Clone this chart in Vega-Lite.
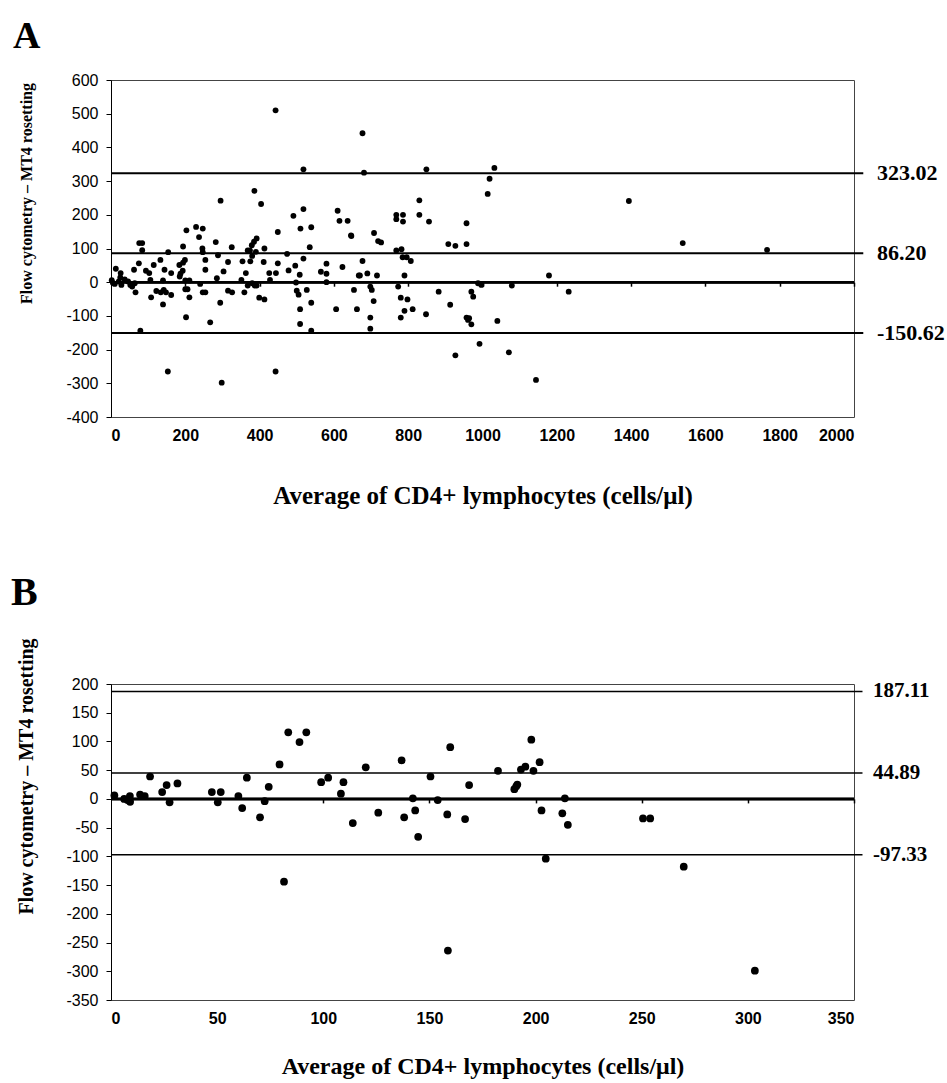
{
  "$schema": "https://vega.github.io/schema/vega-lite/v6.json",
  "background": "white",
  "padding": {"left": 10, "top": 17, "right": 0, "bottom": 0},
  "spacing": 63,
  "config": {
    "locale": {"number": {"decimal": ".", "thousands": ",", "grouping": [3], "currency": ["$", ""], "minus": "-"}},
    "view": {"stroke": "#444", "strokeWidth": 1},
    "axis": {"grid": false, "labelColor": "black", "titleColor": "black", "domainColor": "black", "tickColor": "black", "labelOverlap": false}
  },
  "datasets": {
    "ptsA": [
      {"avg":443,"diff":510},{"avg":518,"diff":335},{"avg":386,"diff":271},{"avg":295,"diff":242},{"avg":404,"diff":232},{"avg":518,"diff":217},{"avg":491,"diff":197},{"avg":610,"diff":212},{"avg":615,"diff":182},{"avg":637,"diff":182},{"avg":646,"diff":139},{"avg":510,"diff":159},{"avg":449,"diff":149},{"avg":539,"diff":163},{"avg":203,"diff":154},{"avg":229,"diff":164},{"avg":247,"diff":159},{"avg":237,"diff":134},{"avg":282,"diff":119},{"avg":392,"diff":130},{"avg":385,"diff":120},{"avg":379,"diff":110},{"avg":374,"diff":94},{"avg":368,"diff":94},{"avg":390,"diff":90},{"avg":413,"diff":100},{"avg":325,"diff":104},{"avg":246,"diff":100},{"avg":247,"diff":89},{"avg":194,"diff":106},{"avg":84,"diff":116},{"avg":76,"diff":116},{"avg":84,"diff":95},{"avg":154,"diff":89},{"avg":288,"diff":80},{"avg":449,"diff":56},{"avg":474,"diff":84},{"avg":535,"diff":104},{"avg":496,"diff":49},{"avg":518,"diff":70},{"avg":411,"diff":60},{"avg":354,"diff":62},{"avg":375,"diff":62},{"avg":380,"diff":78},{"avg":315,"diff":60},{"avg":254,"diff":66},{"avg":199,"diff":66},{"avg":194,"diff":58},{"avg":184,"diff":51},{"avg":133,"diff":66},{"avg":115,"diff":51},{"avg":75,"diff":56},{"avg":13,"diff":40},{"avg":26,"diff":27},{"avg":25,"diff":14},{"avg":62,"diff":37},{"avg":94,"diff":34},{"avg":103,"diff":27},{"avg":144,"diff":37},{"avg":162,"diff":27},{"avg":187,"diff":25},{"avg":185,"diff":17},{"avg":193,"diff":34},{"avg":254,"diff":37},{"avg":303,"diff":32},{"avg":363,"diff":27},{"avg":426,"diff":27},{"avg":444,"diff":27},{"avg":478,"diff":35},{"avg":508,"diff":22},{"avg":565,"diff":31},{"avg":580,"diff":55},{"avg":580,"diff":25},{"avg":623,"diff":45},{"avg":667,"diff":20},{"avg":285,"diff":12},{"avg":351,"diff":7},
      {"avg":2,"diff":6},{"avg":5,"diff":-2},{"avg":10,"diff":-5},{"avg":21,"diff":2},{"avg":28,"diff":-8},{"avg":37,"diff":8},{"avg":46,"diff":2},{"avg":52,"diff":-8},{"avg":57,"diff":-13},{"avg":64,"diff":-3},{"avg":66,"diff":-30},
      {"avg":106,"diff":7},{"avg":140,"diff":5},{"avg":200,"diff":5},{"avg":211,"diff":5},{"avg":240,"diff":-5},{"avg":108,"diff":-45},{"avg":122,"diff":-26},{"avg":134,"diff":-30},{"avg":142,"diff":-23},{"avg":148,"diff":-30},{"avg":162,"diff":-38},{"avg":140,"diff":-66},{"avg":200,"diff":-21},{"avg":206,"diff":-21},{"avg":211,"diff":-45},{"avg":247,"diff":-30},{"avg":254,"diff":-30},{"avg":315,"diff":-25},{"avg":326,"diff":-30},{"avg":359,"diff":-30},{"avg":368,"diff":-10},{"avg":380,"diff":-3},{"avg":387,"diff":-10},{"avg":392,"diff":-10},{"avg":399,"diff":-46},{"avg":413,"diff":-51},{"avg":428,"diff":7},{"avg":294,"diff":-61},{"avg":202,"diff":-104},{"avg":267,"diff":-119},{"avg":79,"diff":-144},{"avg":153,"diff":-265},{"avg":298,"diff":-298},{"avg":443,"diff":-265},{"avg":498,"diff":-1},{"avg":500,"diff":-25},{"avg":505,"diff":-37},{"avg":509,"diff":-80},{"avg":509,"diff":-124},{"avg":527,"diff":-23},{"avg":539,"diff":-61},{"avg":539,"diff":-144},{"avg":580,"diff":0},{"avg":606,"diff":-80},{"avg":654,"diff":-23},{"avg":662,"diff":-80},{"avg":670,"diff":20},
      {"avg":677,"diff":442},{"avg":681,"diff":325},{"avg":849,"diff":335},{"avg":1032,"diff":339},{"avg":1019,"diff":307},{"avg":1014,"diff":262},{"avg":830,"diff":243},{"avg":830,"diff":200},{"avg":768,"diff":200},{"avg":768,"diff":187},{"avg":786,"diff":200},{"avg":786,"diff":180},{"avg":856,"diff":180},{"avg":957,"diff":175},{"avg":647,"diff":137},{"avg":708,"diff":146},{"avg":719,"diff":122},{"avg":727,"diff":118},{"avg":908,"diff":113},{"avg":927,"diff":108},{"avg":957,"diff":113},{"avg":768,"diff":94},{"avg":782,"diff":98},{"avg":785,"diff":74},{"avg":796,"diff":74},{"avg":807,"diff":63},{"avg":677,"diff":63},{"avg":690,"diff":26},{"avg":716,"diff":20},{"avg":790,"diff":20},{"avg":1179,"diff":20},{"avg":698,"diff":-13},{"avg":702,"diff":-23},{"avg":707,"diff":-56},{"avg":698,"diff":-105},{"avg":698,"diff":-138},{"avg":773,"diff":-13},{"avg":780,"diff":-46},{"avg":798,"diff":-51},{"avg":790,"diff":-85},{"avg":812,"diff":-80},{"avg":780,"diff":-105},{"avg":848,"diff":-95},{"avg":882,"diff":-28},{"avg":913,"diff":-67},{"avg":970,"diff":-28},{"avg":975,"diff":-43},{"avg":988,"diff":-3},{"avg":997,"diff":-8},{"avg":957,"diff":-105},{"avg":964,"diff":-107},{"avg":961,"diff":-112},{"avg":970,"diff":-125},{"avg":1040,"diff":-115},{"avg":1079,"diff":-10},{"avg":992,"diff":-183},{"avg":927,"diff":-217},{"avg":1071,"diff":-208},{"avg":1144,"diff":-290},{"avg":1232,"diff":-28},
      {"avg":1394,"diff":241},{"avg":1539,"diff":116},{"avg":1766,"diff":96}
    ],
    "linesA": [{"value":323.02},{"value":86.20},{"value":-150.62}],
    "ptsB": [
      {"avg":1.6,"diff":6},{"avg":6.2,"diff":0},{"avg":7.8,"diff":-2},{"avg":8.9,"diff":5},{"avg":9,"diff":-5},{"avg":13.7,"diff":7.5},{"avg":15.9,"diff":5},{"avg":18.4,"diff":39},{"avg":24.1,"diff":12},{"avg":26.2,"diff":24},{"avg":27.6,"diff":-6},{"avg":31.3,"diff":27},{"avg":47.5,"diff":12},{"avg":50.3,"diff":-6},{"avg":51.7,"diff":12},{"avg":60,"diff":5},{"avg":61.8,"diff":-16},{"avg":64,"diff":37},{"avg":70.2,"diff":-32},{"avg":72.4,"diff":-4},{"avg":74.3,"diff":21},{"avg":79.4,"diff":60},{"avg":83.5,"diff":116},{"avg":81.5,"diff":-144},{"avg":88.8,"diff":99},{"avg":92,"diff":116},{"avg":99,"diff":29},{"avg":102.3,"diff":37},{"avg":108.3,"diff":9},{"avg":109.5,"diff":29},{"avg":113.9,"diff":-42},{"avg":120,"diff":55},{"avg":125.9,"diff":-24},{"avg":136.9,"diff":67},{"avg":138.1,"diff":-32},{"avg":142.2,"diff":1},{"avg":143.3,"diff":-20},{"avg":144.7,"diff":-66},{"avg":150.5,"diff":39},{"avg":153.9,"diff":-2},{"avg":158.4,"diff":-27},{"avg":159.8,"diff":90},{"avg":158.7,"diff":-264},{"avg":166.8,"diff":-35},{"avg":168.7,"diff":24},{"avg":182.3,"diff":49},{"avg":190,"diff":17},{"avg":190.9,"diff":22},{"avg":191.4,"diff":25},{"avg":193.1,"diff":51},{"avg":195.2,"diff":56},{"avg":198,"diff":103},{"avg":199,"diff":49},{"avg":201.9,"diff":64},{"avg":202.8,"diff":-20},{"avg":204.8,"diff":-104},{"avg":212.6,"diff":-25},{"avg":213.8,"diff":1},{"avg":215.2,"diff":-45},{"avg":250.6,"diff":-34},{"avg":254,"diff":-34},{"avg":269.8,"diff":-118},{"avg":303.3,"diff":-299}
    ],
    "linesB": [{"value":187.11},{"value":44.89},{"value":-97.33}]
  },
  "vconcat": [
    {
      "title": {"text": "A", "anchor": "start", "frame": "bounds", "font": "Liberation Serif", "fontSize": 38, "fontWeight": "bold", "color": "black", "baseline": "alphabetic", "offset": -14, "dx": -5},
      "width": 743,
      "height": 337,
      "resolve": {"axis": {"x": "independent"}},
      "layer": [
        {
          "data": {"name": "ptsA"},
          "mark": {"type": "circle", "size": 34, "color": "black", "opacity": 1},
          "encoding": {
            "x": {"field": "avg", "type": "quantitative", "scale": {"domain": [0, 2000], "nice": false},
              "axis": {"orient": "bottom", "values": [0,200,400,600,800,1000,1200,1400,1600,1800,2000], "tickCount": 30, "format": "d", "labelOverlap": false, "ticks": false, "domain": false, "labelFont": "Liberation Sans", "labelFontSize": 16, "labelFontWeight": "bold", "labelPadding": 10, "title": "Average of CD4+ lymphocytes (cells/μl)", "titleFont": "Liberation Serif", "titleFontSize": 25, "titleFontWeight": "bold", "titlePadding": 40}},
            "y": {"field": "diff", "type": "quantitative", "scale": {"domain": [-400, 600], "nice": false},
              "axis": {"values": [-400,-300,-200,-100,0,100,200,300,400,500,600], "tickCount": 30, "format": "d", "labelOverlap": false, "tickSize": 5, "domain": true, "labelFont": "Liberation Sans", "labelFontSize": 16, "labelPadding": 8, "title": "Flow cytometry – MT4 rosetting", "titleFont": "Liberation Serif", "titleFontSize": 16, "titleFontWeight": "bold", "titleAngle": 270, "titleAlign": "center", "titleBaseline": "middle", "titleX": -85, "titleY": 113}}
          }
        },
        {
          "data": {"name": "linesA"},
          "mark": {"type": "rule", "strokeWidth": 2, "color": "black"},
          "encoding": {
            "x": {"datum": 0, "type": "quantitative", "axis": null},
            "x2": {"datum": 2025},
            "y": {"field": "value", "type": "quantitative"}
          }
        },
        {
          "data": {"name": "linesA"},
          "mark": {"type": "text", "align": "left", "baseline": "middle", "dx": 23, "font": "Liberation Serif", "fontSize": 22, "fontWeight": "bold", "color": "black"},
          "encoding": {
            "x": {"datum": 2000, "type": "quantitative", "axis": null},
            "y": {"field": "value", "type": "quantitative"},
            "text": {"field": "value", "type": "quantitative", "format": ".2f"}
          }
        },
        {
          "data": {"name": "linesA"},
          "mark": {"type": "rule", "strokeWidth": 2.5, "color": "black"},
          "encoding": {
            "x": {"datum": 0, "type": "quantitative", "axis": {"orient": "bottom", "offset": -134.8, "labels": false, "ticks": true, "tickSize": 4, "tickWidth": 1.5, "tickCount": 30, "domain": false, "title": null, "values": [200,400,600,800,1000,1200,1400,1600,1800,2000]}},
            "x2": {"datum": 2000},
            "y": {"datum": 0, "type": "quantitative"}
          }
        }
      ]
    },
    {
      "title": {"text": "B", "anchor": "start", "frame": "bounds", "font": "Liberation Serif", "fontSize": 40, "fontWeight": "bold", "color": "black", "baseline": "alphabetic", "offset": -7.5, "dx": -5},
      "width": 743,
      "height": 316,
      "resolve": {"axis": {"x": "independent"}},
      "layer": [
        {
          "data": {"name": "ptsB"},
          "mark": {"type": "circle", "size": 60, "color": "black", "opacity": 1},
          "encoding": {
            "x": {"field": "avg", "type": "quantitative", "scale": {"domain": [0, 350], "nice": false},
              "axis": {"orient": "bottom", "values": [0,50,100,150,200,250,300,350], "tickCount": 30, "format": "d", "labelOverlap": false, "ticks": false, "domain": false, "labelFont": "Liberation Sans", "labelFontSize": 16, "labelFontWeight": "bold", "labelPadding": 10, "title": "Average of CD4+ lymphocytes (cells/μl)", "titleFont": "Liberation Serif", "titleFontSize": 24, "titleFontWeight": "bold", "titlePadding": 28}},
            "y": {"field": "diff", "type": "quantitative", "scale": {"domain": [-350, 200], "nice": false},
              "axis": {"values": [-350,-300,-250,-200,-150,-100,-50,0,50,100,150,200], "tickCount": 30, "format": "d", "labelOverlap": false, "tickSize": 5, "domain": true, "labelFont": "Liberation Sans", "labelFontSize": 16, "labelPadding": 8, "title": "Flow cytometry – MT4 rosetting", "titleFont": "Liberation Serif", "titleFontSize": 20, "titleFontWeight": "bold", "titleAngle": 270, "titleAlign": "center", "titleBaseline": "middle", "titleX": -85, "titleY": 92}}
          }
        },
        {
          "data": {"name": "linesB"},
          "mark": {"type": "rule", "strokeWidth": 1.5, "color": "black"},
          "encoding": {
            "x": {"datum": 0, "type": "quantitative", "axis": null},
            "x2": {"datum": 354},
            "y": {"field": "value", "type": "quantitative"}
          }
        },
        {
          "data": {"name": "linesB"},
          "mark": {"type": "text", "align": "left", "baseline": "middle", "dx": 19, "font": "Liberation Serif", "fontSize": 21, "fontWeight": "bold", "color": "black"},
          "encoding": {
            "x": {"datum": 350, "type": "quantitative", "axis": null},
            "y": {"field": "value", "type": "quantitative"},
            "text": {"field": "value", "type": "quantitative", "format": ".2f"}
          }
        },
        {
          "data": {"name": "linesB"},
          "mark": {"type": "rule", "strokeWidth": 2.5, "color": "black"},
          "encoding": {
            "x": {"datum": 0, "type": "quantitative", "axis": {"orient": "bottom", "offset": -201.1, "labels": false, "ticks": true, "tickSize": 4, "tickWidth": 1.5, "tickCount": 30, "domain": false, "title": null, "values": [50,100,150,200,250,300,350]}},
            "x2": {"datum": 350},
            "y": {"datum": 0, "type": "quantitative"}
          }
        }
      ]
    }
  ]
}
